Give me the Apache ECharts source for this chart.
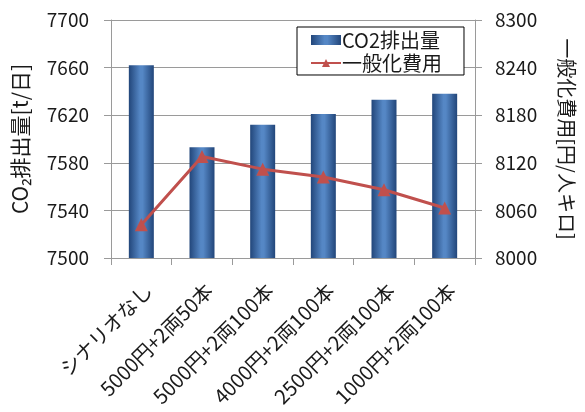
<!DOCTYPE html>
<html>
<head>
<meta charset="utf-8">
<script src="https://cdn.jsdelivr.net/npm/echarts@6/dist/echarts.min.js"></script>
<style>
  html, body { margin: 0; padding: 0; background: #ffffff; }
  #chart { width: 585px; height: 412px; }
</style>
</head>
<body>
<div id="chart"></div>
<script>
// Scenario labels along the category axis
const categories = ['シナリオなし', '5000円+2両50本', '5000円+2両100本', '4000円+2両100本', '2500円+2両100本', '1000円+2両100本'];
// CO2 emissions [t/day] (bars, left axis)
const co2Values = [7662, 7593, 7612, 7621, 7633, 7638];
// Generalized cost [yen/person-km] (line, right axis)
const costValues = [8042, 8128, 8112, 8102, 8086, 8063];
// Axis tick settings
const leftTicks = { min: 7500, max: 7700, interval: 40 };
const rightTicks = { min: 8000, max: 8300, interval: 60 };

const FONT = '"Noto Sans CJK JP", "Noto Sans", sans-serif';
const TEXT = '#1a1a1a';
const GRID_COLOR = '#9a9a9a';

const chart = echarts.init(document.getElementById('chart'), null, { renderer: 'canvas' });

const barGradient = new echarts.graphic.LinearGradient(0, 0, 1, 0, [
  { offset: 0, color: '#22467a' },
  { offset: 0.45, color: '#5587c5' },
  { offset: 0.55, color: '#5587c5' },
  { offset: 1, color: '#22467a' }
]);

const plainNumber = v => String(v);

chart.setOption({
  animation: false,
  textStyle: { fontFamily: FONT },
  grid: { left: 111, right: 102, top: 20, bottom: 154 },
  legend: {
    left: 297,
    top: 27,
    orient: 'vertical',
    backgroundColor: '#ffffff',
    borderColor: '#000000',
    borderWidth: 1,
    padding: [3, 22, 2, 13],
    itemGap: 3,
    itemWidth: 30,
    itemHeight: 10,
    textStyle: { fontFamily: FONT, fontSize: 20, color: TEXT, padding: [0, 0, 0, -4] },
    data: [
      { name: 'CO2排出量', icon: 'rect' },
      { name: '一般化費用' }
    ]
  },
  xAxis: {
    type: 'category',
    data: categories,
    axisLine: { lineStyle: { color: GRID_COLOR } },
    axisTick: { show: true, length: 7, alignWithLabel: false, lineStyle: { color: GRID_COLOR } },
    axisLabel: {
      rotate: 45,
      interval: 0,
      margin: 22,
      verticalAlign: 'top',
      fontFamily: FONT,
      fontSize: 20,
      color: TEXT
    }
  },
  yAxis: [
    {
      type: 'value',
      min: leftTicks.min,
      max: leftTicks.max,
      interval: leftTicks.interval,
      position: 'left',
      name: 'CO₂排出量[t/日]',
      nameLocation: 'middle',
      nameRotate: 90,
      nameGap: 80,
      nameTextStyle: { fontFamily: FONT, fontSize: 21, color: TEXT },
      axisLine: { show: true, lineStyle: { color: GRID_COLOR } },
      axisTick: { show: true, length: 7, lineStyle: { color: GRID_COLOR } },
      axisLabel: { fontFamily: FONT, fontSize: 19, color: TEXT, margin: 22, formatter: plainNumber },
      splitLine: { show: true, lineStyle: { color: GRID_COLOR, width: 1 } }
    },
    {
      type: 'value',
      min: rightTicks.min,
      max: rightTicks.max,
      interval: rightTicks.interval,
      position: 'right',
      name: '一般化費用[円/人キロ]',
      nameLocation: 'middle',
      nameRotate: -90,
      nameGap: 82,
      nameTextStyle: { fontFamily: FONT, fontSize: 20, color: TEXT },
      axisLine: { show: true, lineStyle: { color: GRID_COLOR } },
      axisTick: { show: true, length: 7, lineStyle: { color: GRID_COLOR } },
      axisLabel: { fontFamily: FONT, fontSize: 19, color: TEXT, margin: 20, formatter: plainNumber },
      splitLine: { show: false }
    }
  ],
  series: [
    {
      name: 'CO2排出量',
      type: 'bar',
      yAxisIndex: 0,
      data: co2Values,
      barWidth: 25,
      itemStyle: { color: barGradient }
    },
    {
      name: '一般化費用',
      type: 'line',
      yAxisIndex: 1,
      data: costValues,
      symbol: 'triangle',
      symbolSize: 13,
      lineStyle: { color: '#c0504d', width: 3 },
      itemStyle: { color: '#c0504d' }
    }
  ]
});
</script>
</body>
</html>
